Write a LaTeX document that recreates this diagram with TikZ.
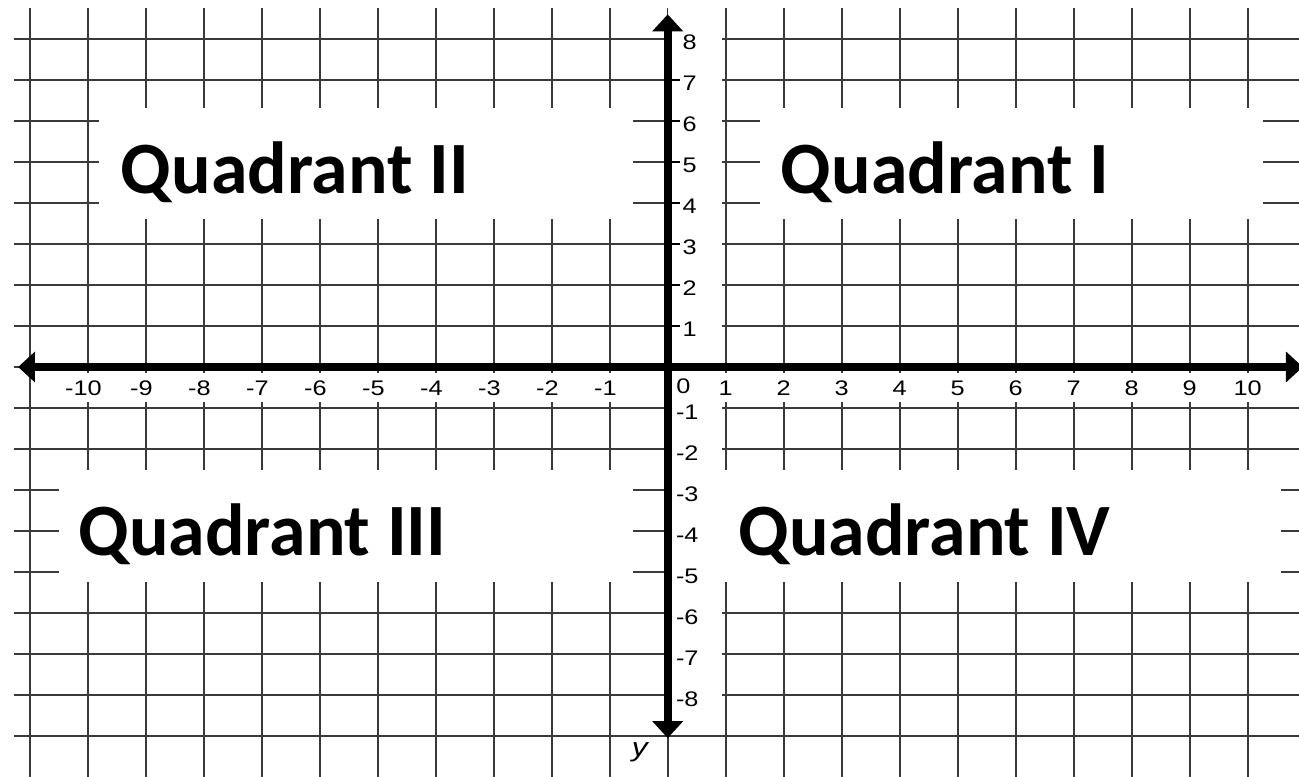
\documentclass[tikz,border=0pt]{standalone}
\usepackage{fontspec}
\setmainfont{Liberation Sans}
\newfontfamily\quadfont{Carlito}
\newfontfamily\tickfont[FakeStretch=1.2]{Liberation Sans}
\usetikzlibrary{arrows.meta}
\definecolor{GridLine}{RGB}{58,58,58}

\begin{document}
\begin{tikzpicture}[
    x=0.58cm, y=0.41cm,
    gridline/.style={draw=GridLine, line width=0.6pt},
    blank/.style={fill=white},
    axisline/.style={line width=2.2pt, {Triangle[width=8.5pt,length=4.8pt]}-{Triangle[width=8.5pt,length=4.8pt]}},
    ytick/.style={line width=0.6pt},
    quad/.style={anchor=base west, inner sep=0pt, font=\quadfont\bfseries\fontsize{21}{24}\selectfont},
    numlabel/.style={inner sep=0pt, font=\tickfont\fontsize{6}{7}\selectfont}
]
    \useasboundingbox (-11.512,-9.976) rectangle (10.884,8.951);

    \foreach \xx in {-11,...,10}
        \draw[gridline] (\xx,8.76) -- (\xx,-10);
    \foreach \yy in {-9,...,8}
        \draw[gridline] (-11.27,\yy) -- (10.95,\yy);

    \fill[blank] (-9.8,6.32) rectangle (-0.6,3.61);
    \fill[blank] (1.59,6.32) rectangle (10.26,3.61);
    \fill[blank] (-10.49,-2.51) rectangle (-0.6,-5.24);
    \fill[blank] (0.79,-2.51) rectangle (10.58,-5.24);
    \fill[blank] (0,8.9) rectangle (0.93,-8.6);
    \fill[blank] (-10.75,-0.15) rectangle (10.95,-0.85);

    \coordinate (xleft) at (-11.2,0);
    \coordinate (xright) at (10.95,0);
    \coordinate (ytop) at (0,8.6);
    \coordinate (ybot) at (0,-9.05);
    \draw[axisline] (xleft) -- (xright);
    \draw[axisline] (ytop) -- (ybot);

    \foreach \i in {-10,...,-1}
        \node[numlabel] (xl\i) at (\i,-0.51) {\llap{-}\the\numexpr-\i\relax};
    \foreach \i in {1,...,10}
        \node[numlabel] (xl\i) at (\i,-0.51) {\i};
    \node[numlabel] (xl0) at (0.27,-0.47) {0};

    \foreach \j in {1,...,7}
        \draw[ytick] (0,\j) -- (0.22,\j);
    \foreach \j in {1,...,8}
        \node[numlabel] (yl\j) at (0.38,\j-0.08) {\j};
    \foreach \j in {-8,...,-1}
        \node[numlabel] (yl\j) at (0.41,\j-0.1) {\llap{-}\the\numexpr-\j\relax};

    \node[numlabel, font=\tickfont\itshape\fontsize{7.5}{8}\selectfont] (yname) at (-0.48,-9.4) {y};

    \node[quad] (q2) at (-9.44,4.24) {Quadrant II};
    \node[quad] (q1) at (1.94,4.24) {Quadrant I};
    \node[quad] (q3) at (-10.17,-4.59) {Quadrant III};
    \node[quad] (q4) at (1.21,-4.59) {Quadrant IV};
\end{tikzpicture}
\end{document}
